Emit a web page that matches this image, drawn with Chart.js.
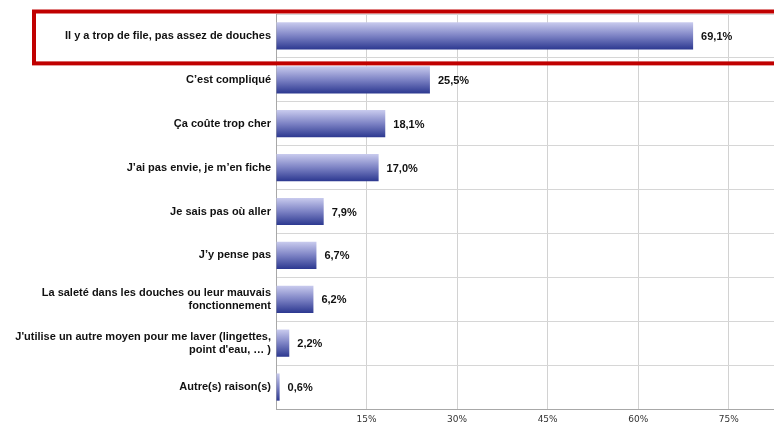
<!DOCTYPE html>
<html>
<head>
<meta charset="utf-8">
<script src="https://cdn.jsdelivr.net/npm/chart.js@4/dist/chart.umd.min.js"></script>
<style>
  html, body { margin: 0; padding: 0; background: #fff; }
  #wrap { width: 774px; height: 426px; position: relative; }
</style>
</head>
<body>
<div id="wrap"><canvas id="chart"></canvas></div>
<script>
// Raisons (catégories), dans l'ordre du graphique
const reasons = [
    'Il y a trop de file, pas assez de douches',
    'C\u2019est compliqué',
    'Ça coûte trop cher',
    'J\u2019ai pas envie, je m\u2019en fiche',
    'Je sais pas où aller',
    'J\u2019y pense pas',
    ['La saleté dans les douches ou leur mauvais', 'fonctionnement'],
    ["J'utilise un autre moyen pour me laver (lingettes,", "point d'eau, … )"],
    'Autre(s) raison(s)'
];
// Pourcentages
const shares = [69.1, 25.5, 18.1, 17.0, 7.9, 6.7, 6.2, 2.2, 0.6];
// Graduations de l'axe
const tickSteps = [15, 30, 45, 60, 75];

const fmt = v => v.toFixed(1).replace('.', ',') + '%';

// Dégradé vertical pour chaque barre
function barGradient(context) {
    const chart = context.chart;
    const yScale = chart.scales.y;
    if (!chart.chartArea || !yScale) return '#4a55a0';
    const rowH = yScale.height / reasons.length;
    const cy = yScale.getPixelForValue(context.dataIndex);
    const half = rowH * 0.62 / 2;
    const g = chart.ctx.createLinearGradient(0, cy - half, 0, cy + half);
    g.addColorStop(0, '#c9cbee');
    g.addColorStop(0.5, '#7c82c4');
    g.addColorStop(1, '#2c3890');
    return g;
}

// Valeurs à droite des barres + cadre rouge autour de la première ligne
const extras = {
    id: 'extras',
    afterDatasetsDraw(chart) {
        const ctx = chart.ctx;
        const meta = chart.getDatasetMeta(0);
        ctx.save();
        ctx.font = 'bold 11px "Liberation Sans", Arial, sans-serif';
        ctx.fillStyle = '#111';
        ctx.textBaseline = 'middle';
        ctx.textAlign = 'left';
        meta.data.forEach((bar, i) => {
            ctx.fillText(fmt(shares[i]), bar.x + 8, bar.y + 1);
        });

        const yScale = chart.scales.y;
        const rowH = yScale.height / reasons.length;
        const rowTop = yScale.getPixelForValue(0) - rowH / 2;
        ctx.strokeStyle = '#c00000';
        ctx.lineWidth = 4;
        ctx.strokeRect(34, rowTop - 2.5, chart.width + 20, rowH + 8);
        ctx.restore();
    }
};

new Chart(document.getElementById('chart'), {
    type: 'bar',
    data: {
        labels: reasons,
        datasets: [{
            data: shares,
            backgroundColor: barGradient,
            borderWidth: 0,
            barPercentage: 0.62,
            categoryPercentage: 1
        }]
    },
    options: {
        indexAxis: 'y',
        responsive: true,
        maintainAspectRatio: false,
        animation: false,
        layout: { padding: { top: 14, left: 0, right: 0, bottom: 0 } },
        plugins: {
            legend: { display: false },
            tooltip: { enabled: false }
        },
        scales: {
            x: {
                min: 0,
                max: 82.5,
                afterFit: s => { s.height = 17; },
                ticks: {
                    stepSize: 15,
                    includeBounds: false,
                    padding: 5,
                    maxRotation: 0,
                    color: '#333',
                    font: { family: '"DejaVu Sans", Verdana, sans-serif', size: 9 },
                    callback: v => tickSteps.includes(v) ? v + '%' : ''
                },
                grid: { color: '#d2d2d2', drawTicks: false },
                border: { color: '#a8a8a8' }
            },
            y: {
                afterFit: s => { s.width = 276; },
                ticks: {
                    padding: 5,
                    color: '#111',
                    font: { family: '"Liberation Sans", Arial, sans-serif', size: 11, weight: 'bold' }
                },
                grid: { color: '#d6d6d6', drawTicks: false },
                border: { color: '#a8a8a8' }
            }
        }
    },
    plugins: [extras]
});
</script>
</body>
</html>
